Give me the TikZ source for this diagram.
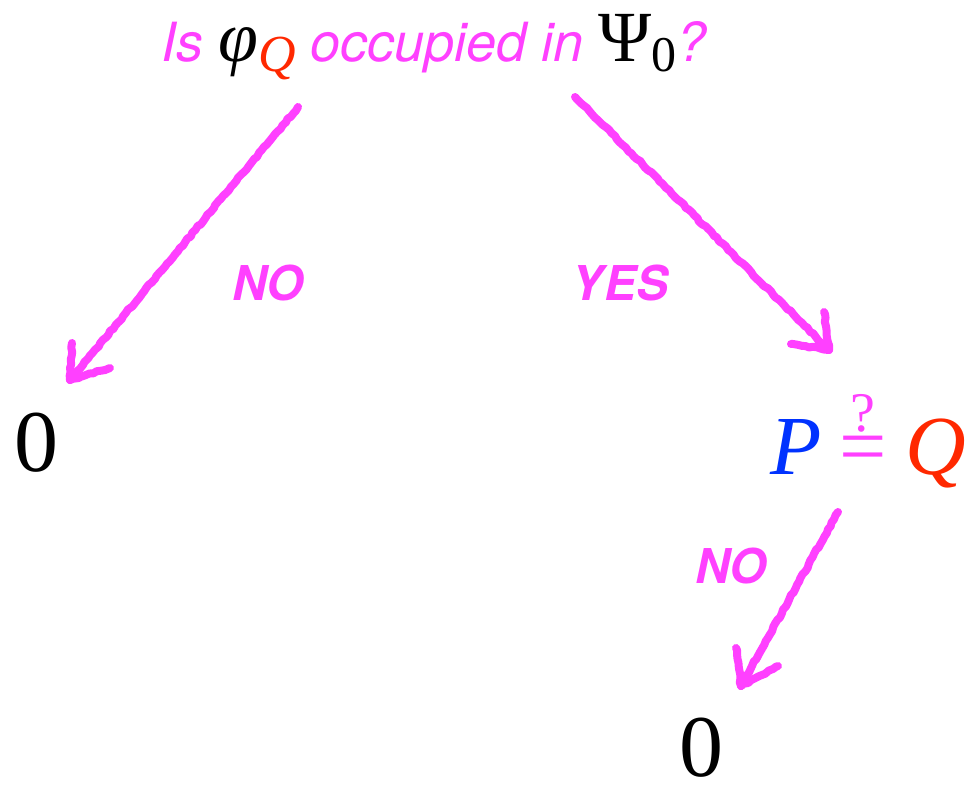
\RequirePackage{fix-cm}
\documentclass[tikz,border=0pt]{standalone}
\usepackage{fontspec}
\newfontfamily\helv{TeX Gyre Heros}
\newfontfamily\tms{Liberation Serif}
\usetikzlibrary{decorations.pathmorphing}
\definecolor{mag}{RGB}{255,64,255}
\definecolor{qred}{RGB}{255,40,0}
\definecolor{pblue}{RGB}{0,50,255}
\tikzset{
  chalk/.style={draw=mag, line width=4pt, line cap=round, line join=round,
    decorate, decoration={random steps, segment length=2pt, amplitude=0.4pt}},
  lbl/.style={text=mag, font=\helv\bfseries\itshape\fontsize{24}{28}\selectfont, inner sep=0pt},
  big/.style={font=\tms\fontsize{44}{50}\selectfont, inner sep=0pt, anchor=base}
}
\begin{document}
\begin{tikzpicture}[x=0.5pt, y=-0.5pt]
\useasboundingbox (0,0) rectangle (973,785);
% title
\node[anchor=base, inner sep=0pt, text=mag, font=\helv\itshape\fontsize{27}{34}\selectfont] (q) at (434,62)
  {Is {\color{black}\tms\fontsize{36}{40}\selectfont\itshape φ}\raisebox{-5pt}{\color{qred}\tms\itshape\fontsize{26}{30}\selectfont Q}
   occupied in {\color{black}\tms\upshape\fontsize{36}{40}\selectfont Ψ\raisebox{-5pt}{\fontsize{25}{30}\selectfont 0}}?};
% results
\node[big] (z1) at (36,472) {0};
\node[big] (z2) at (701,776) {0};
\node[anchor=base, inner sep=0pt, font=\tms\fontsize{42}{46}\selectfont] (pq) at (868,474)
  {{\color{pblue}\itshape P}\hspace{9pt}$\mathrel{\color{mag}\stackrel{\hbox{\tms\fontsize{28}{30}\selectfont ?}}{\hbox{\tms\fontsize{42}{44}\selectfont =}}}$\hspace{9pt}{\color{qred}\itshape Q}};
% labels
\node[lbl] (no1) at (268,283) {NO};
\node[lbl] (yes) at (620,283) {YES};
\node[lbl] (no2) at (731,566) {NO};
% arrow coordinates
\coordinate (a1s) at (298,107);
\coordinate (a1e) at (70,380);
\coordinate (a2s) at (575,97);
\coordinate (a2e) at (829,350);
\coordinate (a3s) at (838,512);
\coordinate (a3e) at (741,686);
% arrows
\draw[chalk] (a1s) -- (a1e);
\draw[chalk] (a1e) -- ++(2,-37);
\draw[chalk] (a1e) -- ++(40,-12);
\draw[chalk] (a2s) -- (a2e);
\draw[chalk] (a2e) -- ++(-5,-38);
\draw[chalk] (a2e) -- ++(-38,-6);
\draw[chalk] (a3s) -- (a3e);
\draw[chalk] (a3e) -- ++(-5,-38);
\draw[chalk] (a3e) -- ++(37,-20);
\end{tikzpicture}
\end{document}
